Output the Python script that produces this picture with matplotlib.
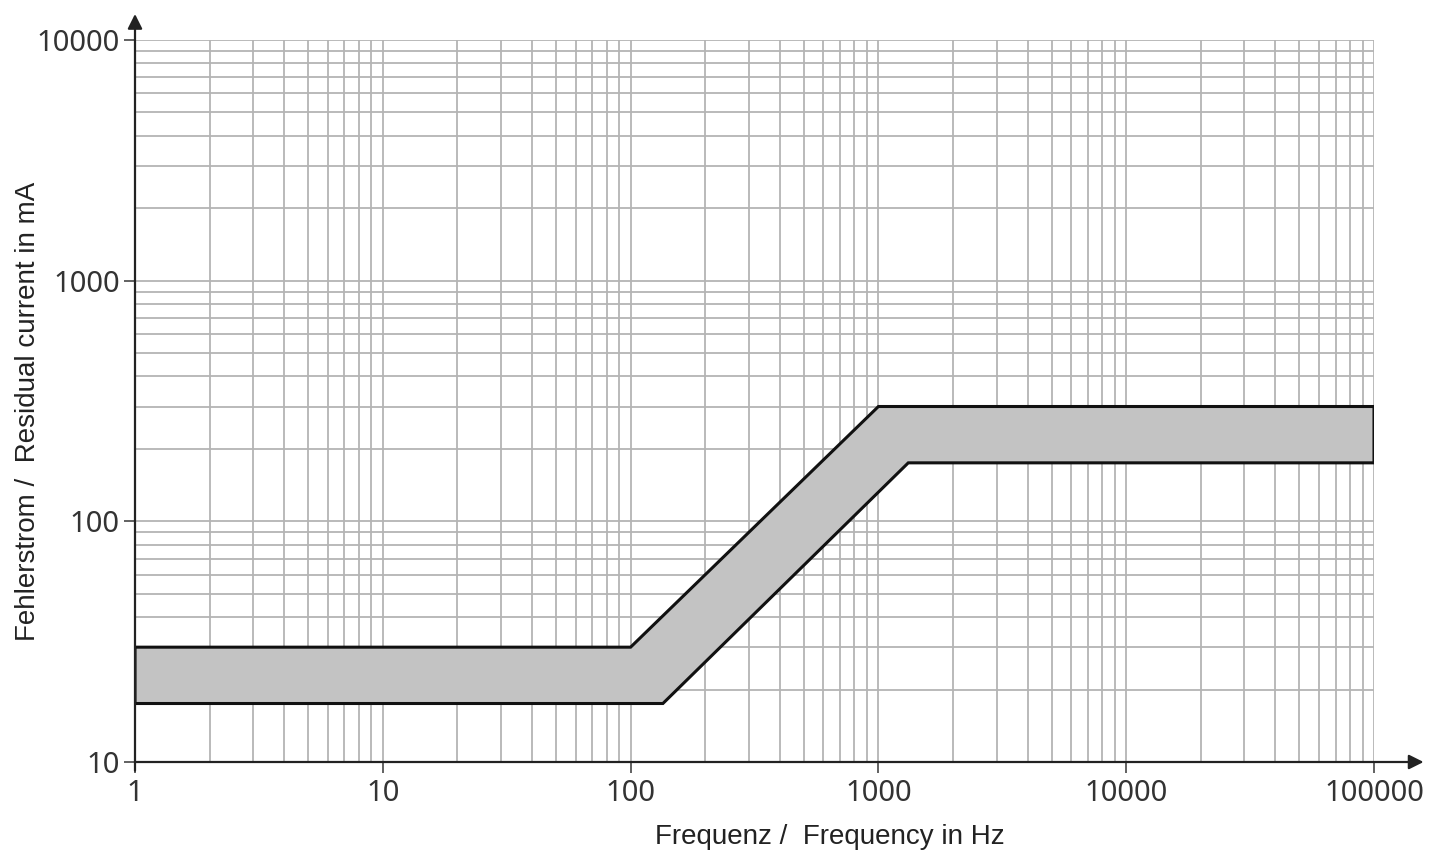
import numpy as np
import matplotlib.pyplot as plt
from matplotlib.ticker import LogLocator, NullFormatter, FixedLocator

# Band boundaries (frequency in Hz, residual current in mA)
upper_f = [1, 100, 1000, 100000]
upper_i = [30, 30, 300, 300]
lower_f = [1, 135, 1320, 100000]
lower_i = [17.5, 17.5, 175, 175]

x_ticks = [1, 10, 100, 1000, 10000, 100000]
x_labels = ['1', '10', '100', '1000', '10000', '100000']
y_ticks = [10, 100, 1000, 10000]
y_labels = ['10', '100', '1000', '10000']

fig = plt.figure(figsize=(14.46, 8.58), dpi=100)
ax = fig.add_axes([135 / 1446, 1 - 762 / 858, (1374 - 135) / 1446, (762 - 40) / 858])

ax.set_xscale('log')
ax.set_yscale('log')
ax.set_xlim(1, 100000)
ax.set_ylim(10, 10000)

# grid
ax.xaxis.set_major_locator(FixedLocator(x_ticks))
ax.yaxis.set_major_locator(FixedLocator(y_ticks))
ax.xaxis.set_minor_locator(LogLocator(base=10, subs=np.arange(2, 10)))
ax.yaxis.set_minor_locator(LogLocator(base=10, subs=np.arange(2, 10)))
ax.xaxis.set_minor_formatter(NullFormatter())
ax.yaxis.set_minor_formatter(NullFormatter())
ax.grid(True, which='both', color='#b4b4b4', linewidth=1.3)
ax.set_axisbelow(True)

# band
poly_x = list(upper_f) + list(lower_f[::-1])
poly_y = list(upper_i) + list(lower_i[::-1])
ax.fill(poly_x, poly_y, facecolor='#c3c3c3', edgecolor='#111111', linewidth=2.2, zorder=3)

ax.set_xticklabels(x_labels)
ax.set_yticklabels(y_labels)
ax.tick_params(which='major', length=8, width=1.3, color='#555555',
               labelsize=21, labelcolor='#333333', pad=3)
ax.tick_params(axis='x', which='major', pad=4)
ax.tick_params(which='minor', length=0)
for lab in ax.get_xticklabels() + ax.get_yticklabels():
    lab.set_family('Noto Sans')

for s in ['top', 'right', 'left', 'bottom']:
    ax.spines[s].set_visible(False)

# axes with arrows
ax.annotate('', xy=(1.04, 0), xytext=(0, 0), xycoords='axes fraction',
            arrowprops=dict(arrowstyle='-|>', color='#222222', lw=1.6,
                            mutation_scale=22, shrinkA=0, shrinkB=0),
            annotation_clip=False)
ax.annotate('', xy=(0, 1.036), xytext=(0, -0.012), xycoords='axes fraction',
            arrowprops=dict(arrowstyle='-|>', color='#222222', lw=1.6,
                            mutation_scale=22, shrinkA=0, shrinkB=0),
            annotation_clip=False)

ax.set_xlabel('Frequenz /  Frequency in Hz', fontsize=20, family='Liberation Sans',
              color='#222222')
ax.set_ylabel('Fehlerstrom /  Residual current in mA', fontsize=20, family='Liberation Sans',
              color='#222222')
ax.xaxis.set_label_coords(0.561, -0.086)
ax.yaxis.set_label_coords(-0.0755, 0.486)

plt.savefig('out.png', dpi=100)
